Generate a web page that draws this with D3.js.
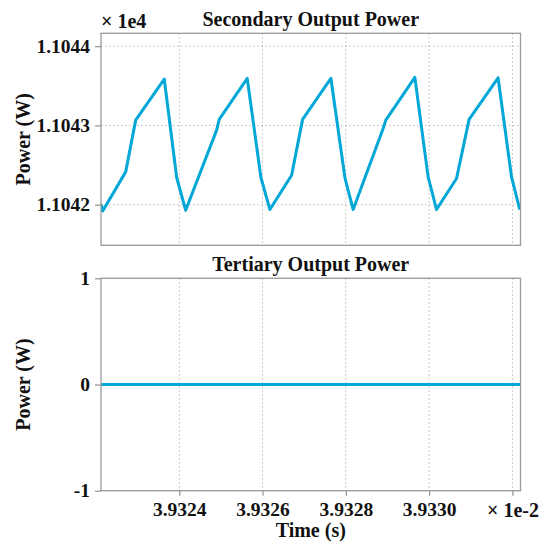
<!DOCTYPE html>
<html>
<head>
<meta charset="utf-8">
<script src="https://cdn.jsdelivr.net/npm/d3@7"></script>
<style>
  body { margin: 0; background: #fff; }
  text { font-family: "Liberation Serif", "Times New Roman", serif; font-weight: bold; fill: #111; }
</style>
</head>
<body>
<script>
// Time in microseconds, power in watts
var secTime = [39322.121, 39322.162, 39322.714, 39322.954, 39323.640, 39323.938, 39324.154,
  39324.898, 39324.960, 39325.632, 39325.961, 39326.177, 39326.698, 39326.962, 39327.641,
  39327.977, 39328.176, 39328.896, 39328.960, 39329.657, 39329.976, 39330.178, 39330.658,
  39330.960, 39331.656, 39331.978, 39332.177]
var secPower = [11042.006, 11041.921, 11042.414, 11043.067, 11043.585, 11042.343, 11041.930,
  11042.941, 11043.076, 11043.594, 11042.343, 11041.939, 11042.372, 11043.076, 11043.594,
  11042.343, 11041.939, 11042.962, 11043.067, 11043.606, 11042.351, 11041.939, 11042.330,
  11043.076, 11043.601, 11042.351, 11041.939]
var terTime = [39322.121, 39332.194]
var terPower = [0, 0]

var xTicks = [39324, 39326, 39328, 39330, 39332]
var xTickLabels = ["3.9324", "3.9326", "3.9328", "3.9330", ""]
var secTicks = [11042, 11043, 11044]
var secTickLabels = ["1.1042", "1.1043", "1.1044"]
var terTicks = [-1, 0, 1]
var terTickLabels = ["-1", "0", "1"]

var width = 548, height = 544
var left = 101, right = 520.5
var color = "#00a7d7"

var svg = d3.select("body").append("svg")
    .attr("width", width)
    .attr("height", height)

var x = d3.scaleLinear().domain([39322.121, 39332.194]).range([left, right])

function panel(top, bottom, yDomain, yTicks, yLabels, times, values, title, id, showX) {
    var y = d3.scaleLinear().domain(yDomain).range([bottom, top])
    var g = svg.append("g")

    // Grid
    g.selectAll(".vg").data(xTicks).enter().append("line")
        .attr("x1", d => x(d)).attr("x2", d => x(d))
        .attr("y1", top).attr("y2", bottom)
        .attr("stroke", "#b8b8b8").attr("stroke-dasharray", "1.5,2.5")
    g.selectAll(".hg").data(yTicks).enter().append("line")
        .attr("x1", left).attr("x2", right)
        .attr("y1", d => y(d)).attr("y2", d => y(d))
        .attr("stroke", "#b8b8b8").attr("stroke-dasharray", "1.5,2.5")

    // Clip + line
    svg.append("clipPath").attr("id", id).append("rect")
        .attr("x", left).attr("y", top).attr("width", right - left).attr("height", bottom - top)
    var line = d3.line().x((d, i) => x(times[i])).y(d => y(d))
    g.append("path").datum(values)
        .attr("clip-path", "url(#" + id + ")")
        .attr("d", line)
        .attr("fill", "none")
        .attr("stroke", color)
        .attr("stroke-width", 3)
        .attr("stroke-linejoin", "round")

    // Frame
    g.append("rect").attr("x", left).attr("y", top)
        .attr("width", right - left).attr("height", bottom - top)
        .attr("fill", "none").attr("stroke", "#9a9a9a").attr("stroke-width", 1.3)

    // Y axis
    var yAxis = d3.axisLeft(y).tickValues(yTicks).tickSize(6).tickPadding(5)
        .tickFormat((d, i) => yLabels[i])
    var ya = g.append("g").attr("transform", "translate(" + left + ",0)").call(yAxis)
    ya.select(".domain").remove()
    ya.selectAll(".tick line").attr("stroke", "#9a9a9a").attr("stroke-width", 1.3)
    ya.selectAll(".tick text").style("font-size", "19.5px")
        .style("font-family", "Liberation Serif").style("font-weight", "bold").attr("fill", "#111")

    if (showX) {
        var xAxis = d3.axisBottom(x).tickValues(xTicks).tickSize(5).tickPadding(6)
            .tickFormat((d, i) => xTickLabels[i])
        var xa = g.append("g").attr("transform", "translate(0," + bottom + ")").call(xAxis)
        xa.select(".domain").remove()
        xa.selectAll(".tick line").attr("stroke", "#9a9a9a").attr("stroke-width", 1.3)
        xa.selectAll(".tick text").style("font-size", "19.5px")
            .style("font-family", "Liberation Serif").style("font-weight", "bold").attr("fill", "#111")
    }

    // Title
    g.append("text").attr("x", (left + right) / 2).attr("y", top - 7)
        .attr("text-anchor", "middle").style("font-size", "20px").text(title)

    // Y label
    g.append("text")
        .attr("transform", "translate(30," + ((top + bottom) / 2) + ") rotate(-90)")
        .attr("text-anchor", "middle").style("font-size", "20px").text("Power (W)")
}

panel(33.3, 245.3, [11041.488, 11044.162], secTicks, secTickLabels, secTime, secPower,
    "Secondary Output Power", "clipA", false)
panel(278.3, 490.7, [-1, 1], terTicks, terTickLabels, terTime, terPower,
    "Tertiary Output Power", "clipB", true)

// Exponent labels
svg.append("text").attr("x", 101).attr("y", 28).style("font-size", "20px").text("\u00d7 1e4")
svg.append("text").attr("x", 487).attr("y", 517).style("font-size", "20px").text("\u00d7 1e-2")

// X label
svg.append("text").attr("x", (left + right) / 2).attr("y", 537)
    .attr("text-anchor", "middle").style("font-size", "20px").text("Time (s)")
</script>
</body>
</html>
